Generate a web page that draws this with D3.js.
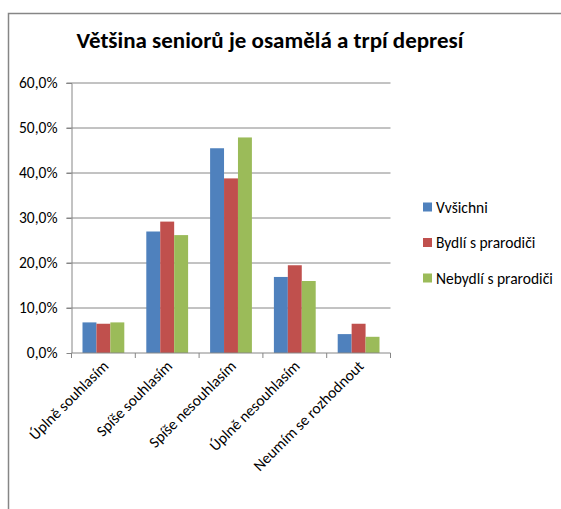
<!DOCTYPE html>
<html>
<head>
<meta charset="utf-8">
<script src="https://cdn.jsdelivr.net/npm/d3@7"></script>
<style>
  body { margin: 0; background: #fff; }
  text { font-family: Calibri, Carlito, Lato, "Open Sans", sans-serif; fill: #000; }
</style>
</head>
<body>
<div id="chart"></div>
<script>
// data
var categories = ["Úplně souhlasím", "Spíše souhlasím", "Spíše nesouhlasím", "Úplně nesouhlasím", "Neumím se rozhodnout"];
var seriesNames = ["Vvšichni", "Bydlí s prarodiči", "Nebydlí s prarodiči"];
var vsichni = [6.8, 27.0, 45.5, 16.9, 4.2];
var bydli = [6.5, 29.2, 38.8, 19.5, 6.5];
var nebydli = [6.8, 26.2, 47.9, 16.0, 3.6];
var yTicks = [0, 10, 20, 30, 40, 50, 60];
var colors = ["#4F81BD", "#C0504D", "#9BBB59"];

var series = [vsichni, bydli, nebydli];

var svgWidth = 561;
var svgHeight = 509;

var margin = { top: 83, left: 71.5 };
var width = 319;
var height = 270;
var fontSize = 15.5;

var svg = d3.select("#chart")
  .append("svg")
  .attr("width", svgWidth)
  .attr("height", svgHeight);

// chart area border (extends beyond the page on the right and bottom)
svg.append("rect")
  .attr("x", 8.5)
  .attr("y", 13.5)
  .attr("width", 700)
  .attr("height", 700)
  .attr("fill", "none")
  .attr("stroke", "#868686")
  .attr("stroke-width", 1.5);

// title
svg.append("text")
  .attr("x", 270)
  .attr("y", 48)
  .attr("text-anchor", "middle")
  .attr("font-size", 23)
  .attr("font-weight", "bold")
  .text("Většina seniorů je osamělá a trpí depresí");

var chart = svg.append("g")
  .attr("transform", `translate(${margin.left}, ${margin.top})`);

// scales
var x0 = d3.scaleBand()
  .domain(categories)
  .range([0, width]);

var x1 = d3.scaleBand()
  .domain(d3.range(series.length))
  .range([11, x0.bandwidth() - 11]);

var y = d3.scaleLinear()
  .domain([0, 60])
  .range([height, 0]);

// gridlines
chart.append("g")
  .selectAll("line")
  .data(yTicks.slice(1))
  .enter()
  .append("line")
  .attr("x1", -5)
  .attr("x2", width)
  .attr("y1", d => y(d))
  .attr("y2", d => y(d))
  .attr("stroke", "#868686")
  .attr("stroke-width", 1);

// bars
chart.selectAll("g.cat")
  .data(categories)
  .enter()
  .append("g")
  .attr("class", "cat")
  .attr("transform", d => `translate(${x0(d)}, 0)`)
  .selectAll("rect")
  .data((d, i) => series.map((s, j) => ({ j: j, v: s[i] })))
  .enter()
  .append("rect")
  .attr("x", d => x1(d.j))
  .attr("width", x1.bandwidth())
  .attr("y", d => y(d.v))
  .attr("height", d => height - y(d.v))
  .attr("fill", d => colors[d.j]);

// y axis
var left = d3.axisLeft(y)
  .tickValues(yTicks)
  .tickSize(5)
  .tickFormat(d => d.toFixed(1).replace(".", ",") + "%");

var yaxis = chart.append("g").call(left);
yaxis.select(".domain").attr("stroke", "#868686").attr("d", `M-5,0.5H0.5V${height}`);
yaxis.selectAll(".tick line").attr("stroke", "#868686");
yaxis.selectAll(".tick text")
  .attr("x", -14)
  .attr("font-size", fontSize)
  .attr("font-family", null);

// x axis
var xaxis = chart.append("g")
  .attr("transform", `translate(0, ${height})`);

xaxis.append("line")
  .attr("x1", 0)
  .attr("x2", width)
  .attr("stroke", "#868686");

xaxis.selectAll("line.tick")
  .data(d3.range(categories.length + 1))
  .enter()
  .append("line")
  .attr("class", "tick")
  .attr("x1", d => d * x0.step())
  .attr("x2", d => d * x0.step())
  .attr("y1", 0)
  .attr("y2", 5)
  .attr("stroke", "#868686");

xaxis.selectAll("text")
  .data(categories)
  .enter()
  .append("text")
  .attr("transform", d => `translate(${x0(d) + x0.bandwidth() / 2 + 6}, 14) rotate(-45)`)
  .attr("text-anchor", "end")
  .attr("font-size", fontSize)
  .text(d => d);

// legend
var legend = svg.append("g")
  .attr("transform", "translate(423, 207)");

var items = legend.selectAll("g")
  .data(seriesNames)
  .enter()
  .append("g")
  .attr("transform", (d, i) => `translate(0, ${i * 35.5})`);

items.append("rect")
  .attr("x", 0)
  .attr("y", -4.5)
  .attr("width", 9)
  .attr("height", 9)
  .attr("fill", (d, i) => colors[i]);

items.append("text")
  .attr("x", 13)
  .attr("y", 5.5)
  .attr("font-size", fontSize)
  .text(d => d);
</script>
</body>
</html>
